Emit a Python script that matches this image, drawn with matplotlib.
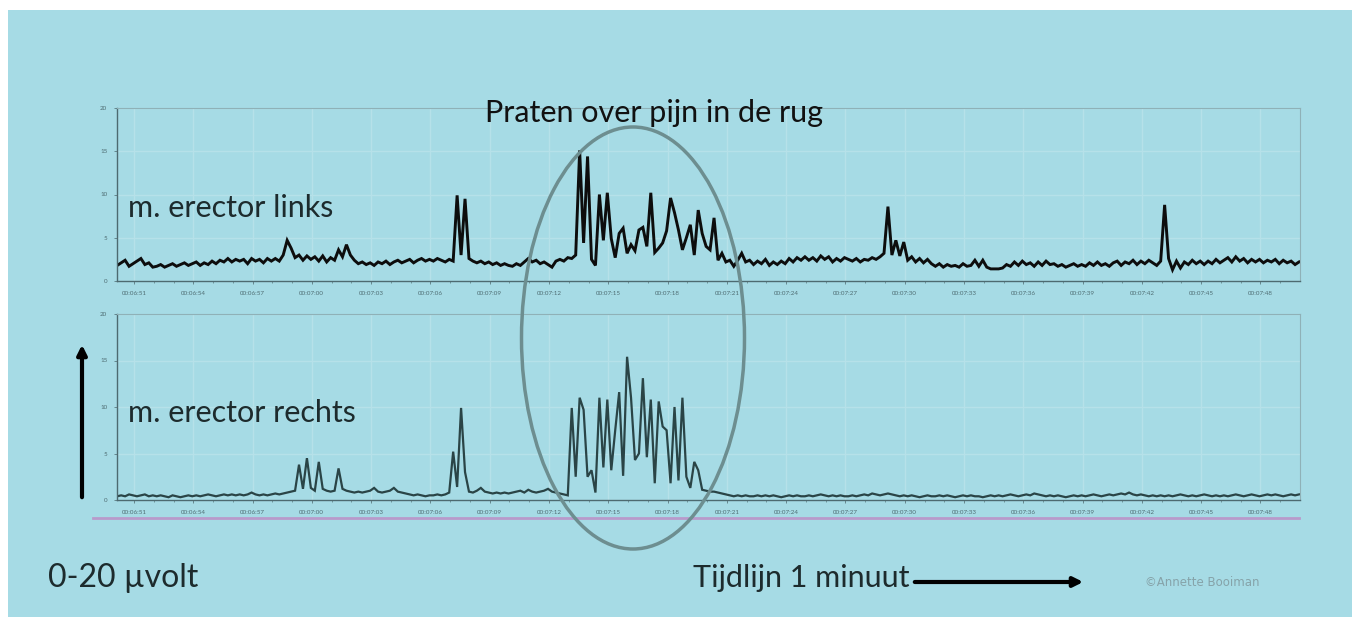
import numpy as np
import matplotlib
matplotlib.use('Agg')
import matplotlib.pyplot as plt
from matplotlib.patches import Ellipse, Rectangle, FancyArrowPatch
from matplotlib.lines import Line2D

# EMG samples, every 0.2 s, starting 0.85 s before 00:06:51
T0 = -0.85
DT = 0.2

links = [
    1.8, 2.1, 2.4, 1.7, 2.0, 2.3, 2.6, 1.9, 2.1, 1.6,
    1.7, 1.9, 1.6, 1.8, 2.0, 1.7, 1.9, 2.1, 1.8, 2.0,
    2.2, 1.8, 2.1, 1.9, 2.3, 2.0, 2.4, 2.2, 2.6, 2.2,
    2.5, 2.3, 2.5, 2.0, 2.6, 2.3, 2.5, 2.1, 2.6, 2.3,
    2.6, 2.3, 3.0, 4.7, 3.8, 2.7, 3.0, 2.4, 2.9, 2.5,
    2.8, 2.3, 2.9, 2.2, 2.7, 2.4, 3.6, 2.8, 4.2, 3.0,
    2.4, 2.0, 2.2, 1.9, 2.1, 1.8, 2.2, 2.0, 2.3, 1.9,
    2.2, 2.4, 2.1, 2.3, 2.5, 2.1, 2.4, 2.6, 2.3, 2.5,
    2.3, 2.6, 2.4, 2.2, 2.5, 2.3, 9.9, 3.0, 9.5, 2.6,
    2.3, 2.1, 2.3, 2.0, 2.2, 1.9, 2.1, 1.8, 2.0, 1.8,
    1.7, 2.0, 1.8, 2.2, 2.6, 2.2, 2.4, 2.0, 2.2, 1.9,
    1.6, 2.3, 2.5, 2.3, 2.7, 2.6, 3.0, 15.1, 4.4, 14.4,
    2.5, 1.8, 10.0, 4.7, 10.2, 4.9, 2.7, 5.5, 6.1, 3.2,
    4.2, 3.5, 5.9, 6.2, 4.0, 10.2, 3.3, 3.8, 4.4, 5.8,
    9.6, 7.9, 5.9, 3.6, 5.0, 6.5, 3.0, 8.2, 5.5, 4.0,
    3.6, 7.3, 2.4, 3.2, 2.2, 2.4, 1.7, 2.4, 3.2, 2.2,
    2.4, 1.9, 2.3, 2.0, 2.5, 1.8, 2.2, 1.9, 2.3, 2.0,
    2.6, 2.2, 2.7, 2.4, 2.8, 2.4, 2.7, 2.3, 2.9, 2.5,
    2.8, 2.2, 2.6, 2.3, 2.7, 2.5, 2.3, 2.6, 2.2, 2.5,
    2.4, 2.7, 2.5, 2.8, 3.2, 8.6, 3.0, 4.7, 2.9, 4.5,
    2.4, 2.8, 2.2, 2.6, 2.1, 2.5, 2.0, 1.7, 2.0, 1.6,
    1.9, 1.7, 1.8, 1.6, 2.0, 1.7, 1.8, 2.4, 1.7, 2.4,
    1.6, 1.4, 1.4, 1.4, 1.5, 1.9, 1.7, 2.2, 1.8, 2.3,
    1.9, 2.1, 1.7, 2.2, 1.8, 2.3, 1.9, 2.0, 1.7, 1.9,
    1.6, 1.8, 2.0, 1.7, 1.9, 1.7, 2.1, 1.8, 2.2, 1.8,
    2.0, 1.7, 2.1, 2.3, 1.8, 2.2, 2.0, 2.4, 1.9, 2.3,
    2.0, 2.4, 2.1, 1.8, 2.3, 8.8, 2.6, 1.3, 2.3, 1.5,
    2.2, 1.9, 2.4, 2.0, 2.3, 1.9, 2.3, 2.0, 2.5, 2.1,
    2.4, 2.7, 2.2, 2.8, 2.3, 2.6, 2.1, 2.5, 2.2, 2.5,
    2.1, 2.4, 2.2, 2.5, 2.0, 2.4, 2.1, 2.3, 1.9, 2.2,
]

rechts = [
    0.4, 0.5, 0.4, 0.6, 0.5, 0.4, 0.5, 0.6, 0.4, 0.5,
    0.4, 0.5, 0.4, 0.3, 0.5, 0.4, 0.3, 0.4, 0.5, 0.4,
    0.5, 0.4, 0.5, 0.6, 0.5, 0.4, 0.5, 0.6, 0.5, 0.6,
    0.5, 0.6, 0.5, 0.6, 0.8, 0.6, 0.5, 0.6, 0.5, 0.6,
    0.7, 0.6, 0.7, 0.8, 0.9, 1.0, 3.8, 1.2, 4.5, 1.3,
    1.0, 4.1, 1.2, 1.0, 0.9, 1.0, 3.4, 1.2, 1.0, 0.9,
    0.8, 0.9, 0.8, 0.9, 1.0, 1.3, 0.9, 0.8, 0.9, 1.0,
    1.3, 0.9, 0.8, 0.7, 0.6, 0.5, 0.6, 0.5, 0.4, 0.5,
    0.5, 0.6, 0.5, 0.6, 0.8, 5.2, 1.4, 9.9, 3.0, 0.9,
    0.8, 1.0, 1.3, 0.9, 0.8, 0.7, 0.8, 0.7, 0.8, 0.7,
    0.8, 0.9, 1.0, 0.8, 1.1, 0.9, 0.8, 0.9, 1.0, 1.2,
    0.9, 0.8, 0.7, 0.6, 0.5, 9.9, 2.5, 11.0, 9.7, 2.5,
    3.2, 0.8, 11.0, 3.5, 10.8, 3.2, 7.5, 11.6, 2.6, 15.4,
    11.0, 4.3, 5.0, 13.1, 4.6, 10.8, 1.8, 10.6, 7.9, 7.5,
    1.8, 10.0, 2.1, 11.0, 2.5, 1.3, 4.1, 3.2, 1.1, 1.0,
    0.9, 0.9, 0.8, 0.7, 0.6, 0.5, 0.4, 0.5, 0.4, 0.5,
    0.4, 0.4, 0.5, 0.4, 0.5, 0.4, 0.5, 0.4, 0.3, 0.4,
    0.5, 0.4, 0.5, 0.4, 0.4, 0.5, 0.4, 0.5, 0.6, 0.5,
    0.4, 0.5, 0.4, 0.5, 0.4, 0.4, 0.5, 0.4, 0.5, 0.6,
    0.5, 0.7, 0.6, 0.5, 0.6, 0.7, 0.6, 0.5, 0.4, 0.5,
    0.4, 0.5, 0.4, 0.3, 0.4, 0.5, 0.4, 0.4, 0.5, 0.4,
    0.5, 0.4, 0.3, 0.4, 0.5, 0.4, 0.5, 0.4, 0.4, 0.3,
    0.4, 0.5, 0.4, 0.5, 0.4, 0.5, 0.6, 0.5, 0.4, 0.5,
    0.6, 0.5, 0.7, 0.6, 0.5, 0.4, 0.5, 0.4, 0.5, 0.4,
    0.3, 0.4, 0.5, 0.4, 0.5, 0.4, 0.5, 0.6, 0.5, 0.4,
    0.5, 0.6, 0.5, 0.6, 0.7, 0.6, 0.8, 0.6, 0.5, 0.6,
    0.5, 0.4, 0.5, 0.4, 0.5, 0.4, 0.5, 0.4, 0.5, 0.6,
    0.5, 0.4, 0.5, 0.4, 0.5, 0.6, 0.5, 0.4, 0.5, 0.4,
    0.5, 0.4, 0.5, 0.6, 0.5, 0.4, 0.5, 0.6, 0.5, 0.4,
    0.5, 0.6, 0.5, 0.6, 0.5, 0.4, 0.5, 0.6, 0.5, 0.6,
]

tick_secs = list(range(0, 58, 3))
tick_labels = ['00:%02d:%02d' % divmod(6 * 60 + 51 + s, 60) for s in tick_secs]
y_ticks = [0, 5, 10, 15, 20]

BG = '#a6dbe5'
W, H = 1360, 626

plt.rcParams['font.family'] = ['Lato', 'DejaVu Sans']
fig = plt.figure(figsize=(W / 100, H / 100), dpi=100, facecolor='white')

def fx(px):
    return px / W

def fy(py):
    return 1 - py / H

fig.add_artist(Rectangle((fx(8), fy(617)), fx(1352) - fx(8), fy(10) - fy(617),
                         transform=fig.transFigure, facecolor=BG, edgecolor='none', zorder=-10))

def panel(top, bottom, values, color, lw):
    ax = fig.add_axes([fx(117), fy(bottom), fx(1300) - fx(117), fy(top) - fy(bottom)])
    ax.set_facecolor('none')
    t = T0 + DT * np.arange(len(values))
    ax.plot(t, values, color=color, lw=lw, solid_joinstyle='miter')
    ax.set_xlim(-0.86, 59.0)
    ax.set_ylim(0, 20)
    ax.set_xticks(tick_secs)
    ax.set_xticklabels(tick_labels)
    ax.set_xticks(np.arange(0, 59, 1), minor=True)
    ax.set_yticks(y_ticks)
    ax.grid(True, color='#b6e1e9', lw=1.0)
    ax.tick_params(axis='both', labelsize=4.5, labelcolor='#4f6d73', color='#5a7a80',
                   length=2, width=0.6, pad=5)
    ax.tick_params(axis='x', which='minor', length=1.5, width=0.5, color='#5a7a80')
    for side in ('top', 'right'):
        ax.spines[side].set_color('#8fb1b7')
        ax.spines[side].set_linewidth(0.8)
    for side in ('left', 'bottom'):
        ax.spines[side].set_color('#4d6a70')
        ax.spines[side].set_linewidth(1.0)
    return ax

panel(108, 281, links, '#0d0d0d', 2.1)
panel(314, 500, rechts, '#2a4446', 1.6)

# purple line under the lower panel
fig.add_artist(Line2D([fx(93), fx(1299)], [fy(518), fy(518)], transform=fig.transFigure,
                      color='#b89acb', lw=2))

# ellipse around the talking period
fig.add_artist(Ellipse((fx(633), fy(338)), fx(223), 422 / H, transform=fig.transFigure,
                       fill=False, edgecolor='#6d8e90', lw=2.5, zorder=5))

txt = '#1d2b2d'
fig.text(fx(654), fy(113), 'Praten over pijn in de rug', fontsize=22, color='#111111',
         ha='center', va='center', zorder=6)
fig.text(fx(128), fy(208), 'm. erector links', fontsize=22, color=txt, ha='left', va='center', zorder=6)
fig.text(fx(128), fy(413), 'm. erector rechts', fontsize=22, color=txt, ha='left', va='center', zorder=6)
fig.text(fx(48), fy(578), '0-20 µvolt', fontsize=23, color=txt, ha='left', va='center', zorder=6)
fig.text(fx(693), fy(578), 'Tijdlijn 1 minuut', fontsize=22, color=txt, ha='left', va='center', zorder=6)
fig.text(fx(1145), fy(583), '©Annette Booiman', fontsize=8.5, color='#86a3a9', family='DejaVu Sans',
         ha='left', va='center', zorder=6)

fig.add_artist(FancyArrowPatch((fx(82), fy(500)), (fx(82), fy(342)), transform=fig.transFigure,
                               arrowstyle='-|>', mutation_scale=14, lw=3, color='black', zorder=6))
fig.add_artist(FancyArrowPatch((fx(912), fy(582)), (fx(1086), fy(582)), transform=fig.transFigure,
                               arrowstyle='-|>', mutation_scale=14, lw=3, color='black', zorder=6))

fig.savefig('out.png', dpi=100, facecolor='white')
